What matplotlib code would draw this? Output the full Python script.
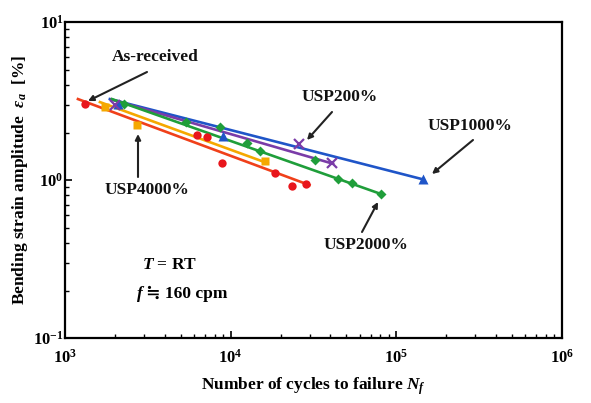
import matplotlib
matplotlib.use("Agg")
import matplotlib.pyplot as plt
from matplotlib.ticker import LogLocator, NullFormatter

plt.rcParams['font.family'] = ['Liberation Serif', 'DejaVu Serif']
plt.rcParams['font.weight'] = 'bold'
plt.rcParams['mathtext.fontset'] = 'custom'
plt.rcParams['mathtext.rm'] = 'Liberation Serif:bold'
plt.rcParams['mathtext.it'] = 'Liberation Serif:italic:bold'
plt.rcParams['mathtext.bf'] = 'Liberation Serif:bold'

# ---- data ----
ar_N = [1318, 6300, 7200, 8840, 18600, 23600, 28600]
ar_e = [3.03, 1.93, 1.87, 1.28, 1.11, 0.916, 0.94]
ar_fitN = [1197, 29900]
ar_fite = [3.26, 0.93]

u4000_N = [1740, 2720, 16200]
u4000_e = [2.90, 2.23, 1.32]
u4000_fitN = [1625, 16700]
u4000_fite = [3.12, 1.28]

u2000_N = [2270, 5350, 8570, 12500, 15100, 32500, 44200, 53700, 81000]
u2000_e = [3.05, 2.33, 2.16, 1.71, 1.53, 1.34, 1.01, 0.957, 0.815]
u2000_fitN = [1920, 81300]
u2000_fite = [3.26, 0.815]

u1000_N = [2090, 8950, 145600]
u1000_e = [3.02, 1.90, 1.01]
u1000_fitN = [1865, 145600]
u1000_fite = [3.26, 1.01]

u200_N = [2000, 25800, 41100]
u200_e = [3.0, 1.69, 1.28]
u200_fitN = [1900, 41500]
u200_fite = [3.24, 1.27]

fig = plt.figure(figsize=(5.91, 4.03), dpi=100)
ax = fig.add_axes([0.110, 0.161, 0.841, 0.784])
ax.set_xscale('log')
ax.set_yscale('log')
ax.set_xlim(1e3, 1e6)
ax.set_ylim(0.1, 10)

c_red = '#e8161c'
c_org = '#f5a800'
c_grn = '#1f9e3a'
c_blu = '#1f55c8'
c_pur = '#7a3ca8'

ax.plot(u1000_fitN, u1000_fite, color=c_blu, lw=1.9, zorder=2)
ax.plot(u200_fitN, u200_fite, color=c_pur, lw=1.9, zorder=2)
ax.plot(u2000_fitN, u2000_fite, color=c_grn, lw=1.9, zorder=2)
ax.plot(u4000_fitN, u4000_fite, color=c_org, lw=1.9, zorder=2)
ax.plot(ar_fitN, ar_fite, color='#f0401a', lw=1.9, zorder=2)

ax.plot(ar_N, ar_e, 'o', color=c_red, ms=6, mec='none', zorder=3)
ax.plot(u4000_N, u4000_e, 's', color=c_org, ms=5.5, mec='none', zorder=3)
ax.plot(u2000_N, u2000_e, 'D', color=c_grn, ms=5, mec='none', zorder=3)
ax.plot(u1000_N, u1000_e, '^', color=c_blu, ms=6.5, mec='none', zorder=3)
ax.plot(u200_N, u200_e, 'x', color=c_pur, ms=6.5, mew=1.6, zorder=3)

for s in ax.spines.values():
    s.set_linewidth(1.6)
ax.tick_params(which='both', direction='in', top=False, right=False)
ax.tick_params(which='major', length=5, width=1.2, labelsize=12, pad=8)
ax.tick_params(which='minor', length=3, width=1.0)
ax.xaxis.set_major_locator(LogLocator(base=10, numticks=10))
ax.xaxis.set_minor_locator(LogLocator(base=10, subs=range(2, 10), numticks=10))
ax.yaxis.set_minor_locator(LogLocator(base=10, subs=range(2, 10), numticks=10))
ax.xaxis.set_minor_formatter(NullFormatter())
ax.yaxis.set_minor_formatter(NullFormatter())
ax.tick_params(axis='y', pad=1)

ax.set_xlabel('Number of cycles to failure $N_f$', fontsize=12.5, fontweight='bold', labelpad=6)
ax.set_ylabel(r'Bending strain amplitude  $\varepsilon_a$  [%]', fontsize=12.5, fontweight='bold', labelpad=2)

akw = dict(arrowstyle='-|>', color='#222222', lw=1.5, mutation_scale=8, shrinkA=0, shrinkB=0)
W, H = 591, 403
def ann(text, xy_px, xytext_px, txt_px):
    ax.annotate('', xy=(xy_px[0] / W, 1 - xy_px[1] / H), xycoords='figure fraction',
                xytext=(xytext_px[0] / W, 1 - xytext_px[1] / H), textcoords='figure fraction',
                arrowprops=akw)
    fig.text(txt_px[0] / W, 1 - txt_px[1] / H, text, fontsize=12.5, fontweight='bold',
             ha='center', va='center', color='#111111')

ann('As-received', (88, 101), (147, 72), (155, 57))
ann('USP200%', (307, 140), (332, 112), (340, 97))
ann('USP1000%', (432, 174), (473, 140), (470, 126))
ann('USP2000%', (378, 202), (362, 232), (366, 245))
ann('USP4000%', (138, 134), (138, 177), (147, 190))

fig.text(170 / W, 1 - 265 / H, '$T$ = RT', fontsize=12.5, fontweight='bold',
         ha='center', va='center')
fig.text(143 / W, 1 - 294 / H, 'f', fontsize=12.5, fontweight='bold', fontstyle='italic',
         ha='right', va='center')
fig.text(146 / W, 1 - 294 / H, '≒ 160 cpm', fontsize=12.5, fontweight='bold',
         ha='left', va='center', family=['Liberation Serif', 'DejaVu Serif'])

fig.savefig('out.png', dpi=100)
